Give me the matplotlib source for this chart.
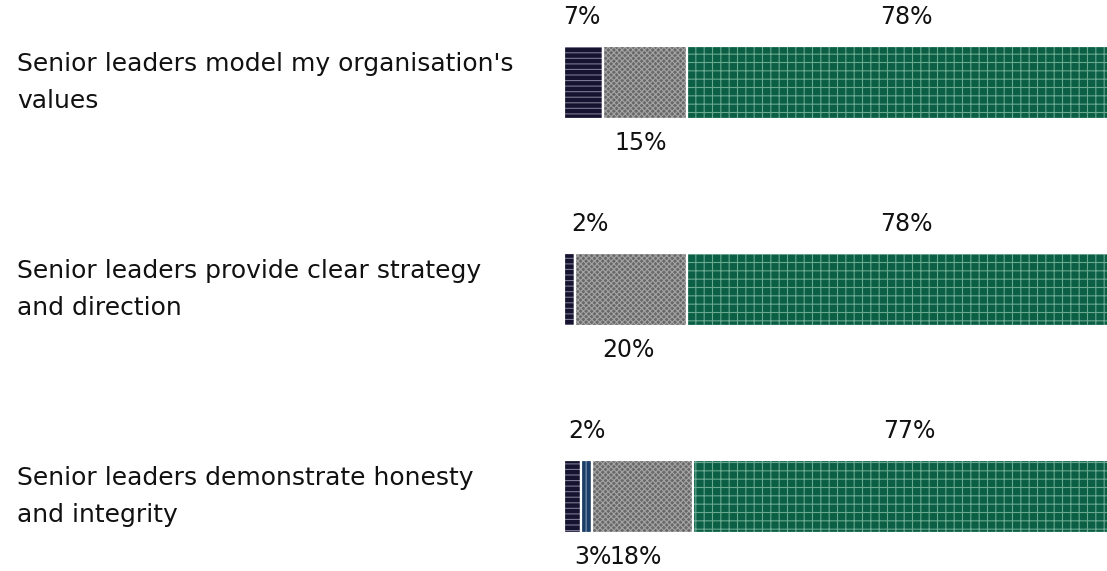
import numpy as np
import matplotlib.pyplot as plt

plt.rcParams['font.family'] = ['DejaVu Sans']
plt.rcParams['hatch.linewidth'] = 0.8

# ---------------------------- dados ----------------------------
questions = [
    "Senior leaders model my organisation's\nvalues",
    "Senior leaders provide clear strategy\nand direction",
    "Senior leaders demonstrate honesty\nand integrity",
]
navy = [7, 2, 3]
blue = [0, 0, 2]
grey = [15, 20, 18]
green = [78, 78, 77]

series = [navy, blue, grey, green]
cores = ['#15132f', '#1b3d66', '#686868', '#0a5f45']
hachuras = ['---', '|||', 'xxxxxx', '++']
cores_hachura = ['#7a7890', '#7f9bbb', '#a4a4a4', '#6aa890']

# posicao de cada rotulo: 1 = acima, -1 = abaixo ; deslocamento em x (pontos %)
lado = [[1, 0, -1, 1], [1, 0, -1, 1], [-1, 1, -1, 1]]
desloc = [[-0.4, 0, -0.8, 0], [3.6, 0, -0.6, 0], [3.7, 0, -1.2, 0]]

# ---------------------------------------------------------------
W, H = 1107, 571
fig = plt.figure(figsize=(W / 100, H / 100), dpi=100)
ax = fig.add_axes([564 / W, 0, 561 / W, 1])

passo = 207
altura = 73 / passo
y = np.arange(len(questions))

esq = np.zeros(len(questions))
for s, serie in enumerate(series):
    vals = np.array(serie, dtype=float)
    ax.barh(y, vals, left=esq, height=altura, color=cores[s],
            edgecolor=cores_hachura[s], hatch=hachuras[s], linewidth=0)
    ax.barh(y, vals, left=esq, height=altura, fill=False,
            edgecolor='white', linewidth=1.6)
    for i, v in enumerate(vals):
        if v <= 0:
            continue
        cx = esq[i] + v / 2 + desloc[i][s]
        if lado[i][s] > 0:
            cy = y[i] - altura / 2 - 29 / passo
        else:
            cy = y[i] + altura / 2 + 24 / passo
        ax.text(cx, cy, f'{int(v)}%', ha='center', va='center',
                fontsize=17, color='#111111')
    esq += vals

trans = ax.get_yaxis_transform().__class__(fig.transFigure, ax.transData)
for i, q in enumerate(questions):
    ax.text(17 / W, y[i], q, transform=trans,
            ha='left', va='center', fontsize=18, color='#111111', linespacing=1.7)

ax.set_xlim(0, 100)
ax.set_ylim((H - 82.5) / passo, -82.5 / passo)
ax.axis('off')

fig.savefig('out.png', dpi=100)
